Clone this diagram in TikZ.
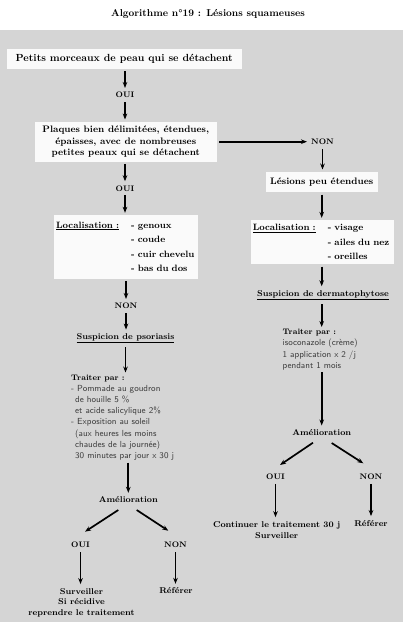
\documentclass[tikz,border=0pt]{standalone}
\usepackage{fontspec}
\usetikzlibrary{arrows.meta}

\definecolor{fig-color-bg}{RGB}{213,213,213}
\definecolor{fig-color-box}{RGB}{250,250,250}
\definecolor{fig-color-txt}{RGB}{60,60,60}

\begin{document}
\begin{tikzpicture}[x=1pt, y=-1pt,
    box/.style={fill=fig-color-box, inner sep=0pt, align=center,
      font=\bfseries\fontsize{9.4}{11.2}\selectfont},
    lbl/.style={inner sep=2pt, align=center,
      font=\bfseries\fontsize{8.4}{10.7}\selectfont},
    yn/.style={lbl, font=\bfseries\fontsize{8}{10}\selectfont},
    trt/.style={inner sep=0pt, anchor=north west, align=left, text=fig-color-txt,
      font=\sffamily\fontsize{8.8}{11.2}\selectfont},
    arr/.style={-{Stealth[length=6pt, width=4.6pt]}, line width=1.7pt,
      shorten <=2pt, shorten >=2pt}]

    \useasboundingbox (0,0) rectangle (403,622);
    \fill[fig-color-bg] (0,30) rectangle (403,622);
    \node (title) at (208,14) {\bfseries\fontsize{10}{12}\selectfont Algorithme n°19 : Lésions squameuses};

    \node[box, minimum width=235pt, minimum height=20pt, font=\bfseries\fontsize{10.3}{12}\selectfont] (petits) at (124.2,59) {Petits morceaux de peau qui se détachent};
    \node[yn] (oui1) at (125,95) {OUI};
    \node[box, minimum width=182pt, minimum height=40pt] (plaques) at (125.8,141.7) {Plaques bien délimitées, étendues,\\épaisses, avec de nombreuses\\petites peaux qui se détachent};
    \node[yn] (non1) at (322.5,141.7) {NON};
    \node[box, minimum width=112pt, minimum height=20.6pt] (lesions) at (321.7,182) {Lésions peu étendues};
    \node[yn] (oui2) at (125,188.3) {OUI};

    \node[box, minimum width=144pt, minimum height=64pt, text width=140pt, align=left, font=\bfseries\fontsize{9.2}{14.5}\selectfont] (loc1) at (126.2,247) {\begin{tabular}{@{}p{75pt}@{}l@{}}\underline{Localisation :} & - genoux\\ & - coude\\ & - cuir chevelu\\ & - bas du dos\end{tabular}};
    \node[box, minimum width=143pt, minimum height=44.3pt, text width=139pt, align=left, font=\bfseries\fontsize{9.2}{14.5}\selectfont] (loc2) at (322.3,242.2) {\begin{tabular}{@{}p{75pt}@{}l@{}}\underline{Localisation :} & - visage\\ & - ailes du nez\\ & - oreilles\end{tabular}};

    \node[yn] (non2) at (126,306) {NON};
    \node[lbl] (psoriasis) at (125.5,338.5) {\underline{Suspicion de psoriasis}};
    \node[lbl] (dermato) at (323,295.2) {\underline{Suspicion de dermatophytose}};

    \node[trt] (traiter1) at (71,374.5) {{\color{black}\rmfamily\bfseries\fontsize{8}{11.2}\selectfont Traiter par :}\\- Pommade au goudron\\\hspace*{4pt}de houille 5 \%\\\hspace*{4pt}et acide salicylique 2\%\\- Exposition au soleil\\\hspace*{4pt}(aux heures les moins\\\hspace*{4pt}chaudes de la journée)\\\hspace*{4pt}30 minutes par jour x 30 j};
    \node[trt] (traiter2) at (282.5,329) {{\color{black}\rmfamily\bfseries\fontsize{8}{11.2}\selectfont Traiter par :}\\isoconazole (crème)\\1 application x 2 /j\\pendant 1 mois};

    \node[lbl] (amel1) at (128.3,500) {Amélioration};
    \node[lbl] (amel2) at (321.7,432.7) {Amélioration};
    \node[yn] (oui3) at (80.5,545) {OUI};
    \node[yn] (non3) at (175.5,545) {NON};
    \node[yn] (oui4) at (275.5,476.7) {OUI};
    \node[yn] (non4) at (371,476.7) {NON};
    \node[lbl] (surv1) at (81.5,602.7) {Surveiller\\Si récidive\\reprendre le traitement};
    \node[lbl] (referer1) at (176,591) {Référer};
    \node[lbl, font=\bfseries\fontsize{8.4}{11.7}\selectfont] (continuer) at (276.7,530.2) {Continuer le traitement 30 j\\Surveiller};
    \node[lbl] (referer2) at (371,523.3) {Référer};

    \draw[arr] (petits.south -| oui1) -- (oui1);
    \draw[arr] (oui1) -- (oui1 |- plaques.north);
    \draw[arr] (plaques) -- (non1);
    \draw[arr] (non1) -- (non1 |- lesions.north);
    \draw[arr] (plaques.south -| oui2) -- (oui2);
    \draw[arr] (oui2) -- (oui2 |- loc1.north);
    \draw[arr] (lesions) -- (lesions |- loc2.north);
    \draw[arr] (non2 |- loc1.south) -- (non2);
    \draw[arr] (non2) -- (non2 |- psoriasis.north);
    \draw[arr] (psoriasis) -- (psoriasis |- traiter1.north);
    \draw[arr] (amel1 |- traiter1.south) -- (amel1);
    \draw[arr] (lesions |- loc2.south) -- (lesions |- dermato.north);
    \draw[arr] (lesions |- dermato.south) -- (lesions |- traiter2.north);
    \draw[arr] (amel2 |- traiter2.south) -- (amel2);

    \draw[arr, shorten <=0pt, shorten >=0pt] ([shift={(-10,10)}]amel1.center) -- ([shift={(4.5,-13.3)}]oui3.center);
    \draw[arr, shorten <=0pt, shorten >=0pt] ([shift={(8.4,10)}]amel1.center) -- ([shift={(-7.2,-14.3)}]non3.center);
    \draw[arr, shorten <=0pt, shorten >=0pt] ([shift={(-8.7,10)}]amel2.center) -- ([shift={(4.5,-11.7)}]oui4.center);
    \draw[arr, shorten <=0pt, shorten >=0pt] ([shift={(10,10.3)}]amel2.center) -- ([shift={(-7.7,-13.4)}]non4.center);

    \draw[arr] (oui3) -- (oui3 |- surv1.north);
    \draw[arr] (non3) -- (non3 |- referer1.north);
    \draw[arr] (oui4) -- (oui4 |- continuer.north);
    \draw[arr] (non4) -- (referer2);
\end{tikzpicture}
\end{document}
